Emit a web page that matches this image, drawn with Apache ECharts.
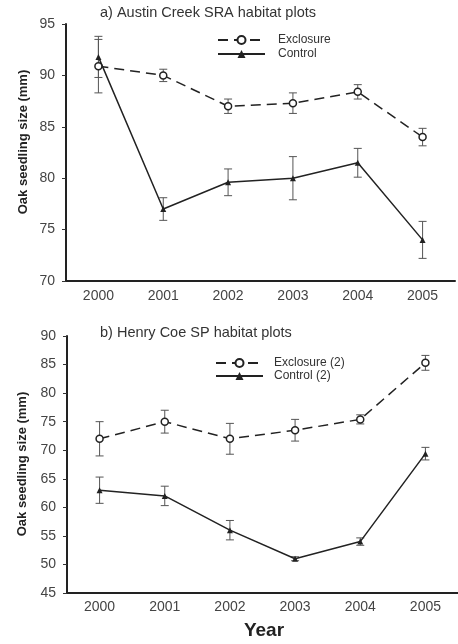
<!DOCTYPE html>
<html>
<head>
<meta charset="utf-8">
<script src="https://cdn.jsdelivr.net/npm/echarts@6/dist/echarts.min.js"></script>
<style>html,body{margin:0;padding:0;background:#fff}#c{width:458px;height:644px}</style>
</head>
<body>
<div id="c"></div>
<script>
var years = ['2000', '2001', '2002', '2003', '2004', '2005'];
var aExcl = [90.9, 90.0, 87.0, 87.3, 88.4, 84.0];
var aExclErr = [2.6, 0.6, 0.7, 1.0, 0.7, 0.85];
var aCtrl = [91.8, 77.0, 79.6, 80.0, 81.5, 74.0];
var aCtrlErr = [2.0, 1.1, 1.3, 2.1, 1.4, 1.8];
var bExcl = [72.0, 75.0, 72.0, 73.5, 75.4, 85.3];
var bExclErr = [3.0, 2.0, 2.7, 1.9, 0.8, 1.3];
var bCtrl = [63.0, 62.0, 56.0, 51.0, 54.0, 69.4];
var bCtrlErr = [2.3, 1.7, 1.7, 0.35, 0.65, 1.1];
var titleA = 'a) Austin Creek SRA habitat plots';
var titleB = 'b) Henry Coe SP habitat plots';
var yName = 'Oak seedling size (mm)';
var xName = 'Year';

function errData(vals, errs) {
  return vals.map(function (v, i) { return [i, v - errs[i], v + errs[i]]; });
}
function renderErr(params, api) {
  var lo = api.coord([api.value(0), api.value(1)]);
  var hi = api.coord([api.value(0), api.value(2)]);
  var w = 4;
  var st = { stroke: '#555', lineWidth: 1 };
  return {
    type: 'group',
    children: [
      { type: 'line', shape: { x1: lo[0], y1: lo[1], x2: hi[0], y2: hi[1] }, style: st },
      { type: 'line', shape: { x1: lo[0] - w, y1: lo[1], x2: lo[0] + w, y2: lo[1] }, style: st },
      { type: 'line', shape: { x1: hi[0] - w, y1: hi[1], x2: hi[0] + w, y2: hi[1] }, style: st }
    ]
  };
}
var font = 'Liberation Sans, Arial, sans-serif';
function xAxis(gi, margin) {
  return {
    type: 'category', gridIndex: gi, data: years, boundaryGap: true,
    axisLine: { lineStyle: { color: '#222', width: 2 } },
    axisTick: { alignWithLabel: true, length: 3, lineStyle: { color: '#333' } },
    axisLabel: { color: '#444', fontSize: 14, fontFamily: font, margin: margin },
    splitLine: { show: false }
  };
}
function yAxis(gi, min, max) {
  return {
    type: 'value', gridIndex: gi, min: min, max: max, interval: 5,
    axisLine: { show: true, lineStyle: { color: '#222', width: 2 } },
    axisTick: { show: true, length: 4, lineStyle: { color: '#333' } },
    axisLabel: { color: '#444', fontSize: 14, fontFamily: font, margin: 11 },
    splitLine: { show: false }
  };
}
function lineSeries(name, data, gi, dashed) {
  return {
    name: name, type: 'line', xAxisIndex: gi, yAxisIndex: gi, data: data,
    symbol: dashed ? 'circle' : 'triangle', symbolSize: dashed ? 7 : 6,
    lineStyle: { color: '#222', width: 1.5, type: dashed ? [10, 6] : 'solid' },
    itemStyle: { color: dashed ? '#fff' : '#222', borderColor: '#222', borderWidth: dashed ? 1.5 : 0 },
    z: 3, animation: false
  };
}
function errSeries(vals, errs, gi) {
  return {
    type: 'custom', xAxisIndex: gi, yAxisIndex: gi, data: errData(vals, errs),
    renderItem: renderErr, encode: { x: 0, y: [1, 2] }, z: 2, animation: false, silent: true
  };
}
function legendText(pad) {
  return { fontSize: 12, color: '#333', fontFamily: font, lineHeight: 12, padding: [0, 0, 0, pad] };
}
var chart = echarts.init(document.getElementById('c'));
chart.setOption({
  animation: false,
  backgroundColor: '#fff',
  title: [
    { text: titleA, left: 100, top: 5, padding: 0, textStyle: { fontSize: 14.5, fontWeight: 'normal', color: '#333', fontFamily: font } },
    { text: titleB, left: 100, top: 325, padding: 0, textStyle: { fontSize: 14.5, fontWeight: 'normal', color: '#333', fontFamily: font } }
  ],
  legend: [
    {
      data: ['Exclosure', 'Control'], orient: 'vertical', left: 217, top: 34, padding: 0,
      itemWidth: 47, itemHeight: 10, itemGap: 2, textStyle: legendText(8)
    },
    {
      data: ['Exclosure (2)', 'Control (2)'], orient: 'vertical', left: 215, top: 357, padding: 0,
      itemWidth: 47, itemHeight: 10, itemGap: 1, textStyle: legendText(6)
    }
  ],
  grid: [
    { left: 66, right: 3, top: 24, height: 257 },
    { left: 67, right: -5, top: 336, height: 257 }
  ],
  xAxis: [xAxis(0, 8), xAxis(1, 7)],
  yAxis: [yAxis(0, 70, 95), yAxis(1, 45, 90)],
  graphic: [
    { type: 'text', rotation: Math.PI / 2, x: 23, y: 142,
      style: { text: yName, font: 'bold 13px ' + font, fill: '#222', textAlign: 'center', textVerticalAlign: 'middle' } },
    { type: 'text', rotation: Math.PI / 2, x: 22, y: 464,
      style: { text: yName, font: 'bold 13px ' + font, fill: '#222', textAlign: 'center', textVerticalAlign: 'middle' } },
    { type: 'text', x: 264, y: 631,
      style: { text: xName, font: 'bold 19px ' + font, fill: '#222', textAlign: 'center', textVerticalAlign: 'middle' } }
  ],
  series: [
    errSeries(aExcl, aExclErr, 0),
    errSeries(aCtrl, aCtrlErr, 0),
    lineSeries('Exclosure', aExcl, 0, true),
    lineSeries('Control', aCtrl, 0, false),
    errSeries(bExcl, bExclErr, 1),
    errSeries(bCtrl, bCtrlErr, 1),
    lineSeries('Exclosure (2)', bExcl, 1, true),
    lineSeries('Control (2)', bCtrl, 1, false)
  ]
});
</script>
</body>
</html>
